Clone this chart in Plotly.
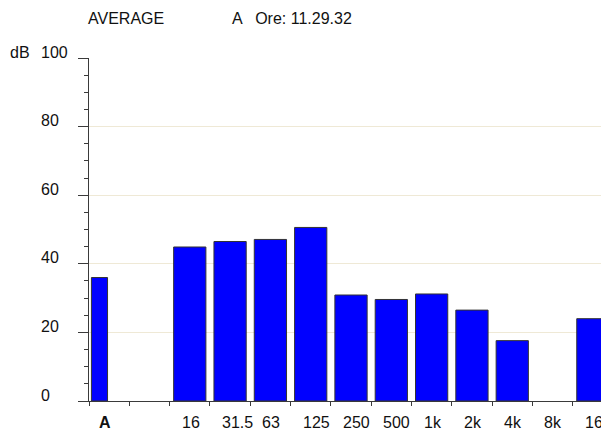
import plotly.graph_objects as go

# band labels along the bottom (one slot per band; slot 1 is empty)
bands = ["A", "", "16", "31.5", "63", "125", "250", "500", "1k", "2k", "4k", "8k", "16"]
levels = [36.0, None, 44.9, 46.5, 47.1, 50.6, 30.9, 29.6, 31.2, 26.5, 17.6, None, 24.0]
y_ticks = [0, 20, 40, 60, 80, 100]

FONT = "Liberation Sans, Arial, sans-serif"
AXIS = "#3a3a3a"
PW = 520   # plot width in px (page body adds an 8px offset)

x_pos = [0.26] + [i + 0.5 for i in range(1, len(bands))]
widths = [0.4] + [0.8] * (len(bands) - 1)

fig = go.Figure(go.Bar(
    x=x_pos,
    y=levels,
    width=widths,
    marker=dict(color="#0000ff", line=dict(color="#333333", width=1)),
    hoverinfo="skip",
))

fig.update_layout(
    width=601, height=428,
    margin=dict(l=81, r=0, t=50, b=35),
    paper_bgcolor="white",
    plot_bgcolor="white",
    showlegend=False,
    font=dict(family=FONT, size=16, color="#111111"),
    xaxis=dict(
        range=[0, 12.9],
        showgrid=False, zeroline=False,
        showline=True, linecolor=AXIS, linewidth=1,
        showticklabels=False, ticks="",
        minor=dict(tickmode="array", tickvals=list(range(14)),
                   ticks="outside", ticklen=4, tickcolor=AXIS, showgrid=False),
    ),
    yaxis=dict(
        range=[0, 100],
        showgrid=True, gridcolor="#efe9d6", gridwidth=1,
        zeroline=False,
        showline=True, linecolor=AXIS, linewidth=1,
        tickmode="array", tickvals=y_ticks,
        ticks="outside", ticklen=10, tickcolor=AXIS,
        showticklabels=False,
        minor=dict(dtick=5, tick0=0, ticks="outside", ticklen=4,
                   tickcolor=AXIS, showgrid=False),
    ),
)

# y tick labels, left-aligned as in the original
for v in y_ticks:
    fig.add_annotation(x=-50 / PW, xref="paper", xanchor="left",
                       y=v, yref="y", yanchor="middle", yshift=6,
                       text=str(v), showarrow=False)

fig.add_annotation(x=-81 / PW, xref="paper", xanchor="left",
                   y=100, yref="y", yanchor="middle", yshift=6,
                   text="dB", showarrow=False)

# band labels under the axis
for i, b in enumerate(bands):
    if not b:
        continue
    left = 0.2 if i == 0 else i + 0.25
    fig.add_annotation(x=left, xref="x", xanchor="left",
                       y=0, yref="y", yanchor="middle", yshift=-21,
                       text="<b>A</b>" if i == 0 else b, showarrow=False)

fig.add_annotation(x=-3 / PW, xref="paper", xanchor="left",
                   y=1, yref="paper", yanchor="middle", yshift=40,
                   text="AVERAGE", showarrow=False)
fig.add_annotation(x=141 / PW, xref="paper", xanchor="left",
                   y=1, yref="paper", yanchor="middle", yshift=40,
                   text="A   Ore: 11.29.32", showarrow=False)

fig.write_html("out.html")
